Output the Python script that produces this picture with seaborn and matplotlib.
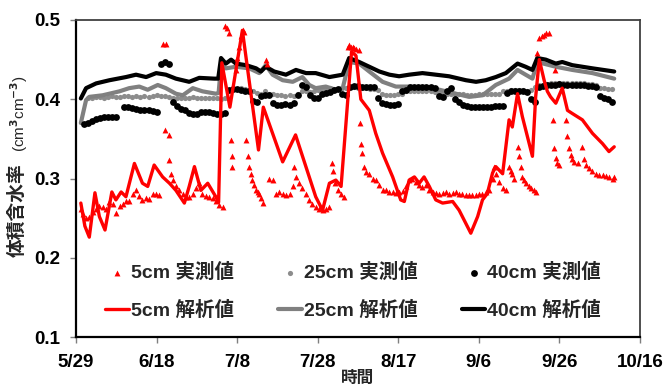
import numpy as np
import pandas as pd
import matplotlib
matplotlib.use("Agg")
import matplotlib.pyplot as plt
import seaborn as sns

nan = np.nan

# ---------------- data (day offset from 5/29) ----------------
tick_days = [0, 20, 40, 60, 80, 100, 120, 140]
tick_labels = ["5/29", "6/18", "7/8", "7/28", "8/17", "9/6", "9/26", "10/16"]
y_ticks = [0.1, 0.2, 0.3, 0.4, 0.5]

labels = ["5cm 実測値", "25cm 実測値", "40cm 実測値", "5cm 解析値", "25cm 解析値", "40cm 解析値"]

# 40cm simulated
sim40_day = [1.2, 2.5, 5.0, 8.3, 12.4, 14.9, 17.4, 19.9, 22.3, 24.8, 28.1, 30.6, 34.3, 35.3, 36.0,
             37.2, 38.5, 39.7, 42.2, 44.7, 45.9, 47.1, 49.2, 52.1, 54.6, 57.1, 59.5, 62.9, 66.2, 67.8,
             70.3, 72.8, 75.3, 77.8, 80.2, 82.7, 86.0, 89.3, 92.6, 96.8, 99.3, 101.7, 104.2, 106.7, 109.6,
             111.6, 113.3, 114.5, 116.6, 119.1, 120.7, 123.2, 128.2, 133.6]
sim40_val = [0.401, 0.414, 0.420, 0.424, 0.428, 0.431, 0.428, 0.433, 0.431, 0.426, 0.422, 0.427, 0.426, 0.426, 0.452,
             0.445, 0.450, 0.445, 0.443, 0.439, 0.435, 0.441, 0.435, 0.431, 0.437, 0.433, 0.433, 0.428, 0.431, 0.452,
             0.447, 0.441, 0.435, 0.431, 0.429, 0.431, 0.433, 0.431, 0.429, 0.424, 0.422, 0.424, 0.428, 0.433, 0.445,
             0.441, 0.437, 0.452, 0.450, 0.445, 0.447, 0.443, 0.439, 0.435]

# 25cm simulated
sim25_day = [1.2, 2.5, 3.3, 6.6, 10.8, 13.2, 15.7, 17.8, 20.3, 22.3, 24.8, 26.5, 29.0, 31.4, 34.7,
             35.4, 36.0, 37.2, 39.7, 43.0, 45.5, 47.1, 48.8, 51.3, 53.8, 56.2, 57.9, 59.5, 62.0, 64.5,
             66.2, 67.8, 70.3, 72.8, 76.1, 79.4, 82.7, 86.0, 90.2, 94.3, 97.6, 100.9, 104.2, 107.5, 109.6,
             111.6, 113.3, 114.5, 119.1, 123.2, 128.2, 133.6]
sim25_val = [0.370, 0.399, 0.403, 0.405, 0.410, 0.414, 0.416, 0.412, 0.418, 0.414, 0.407, 0.405, 0.414, 0.410, 0.407,
             0.408, 0.443, 0.439, 0.441, 0.439, 0.433, 0.443, 0.431, 0.424, 0.422, 0.428, 0.418, 0.414, 0.416, 0.412,
             0.414, 0.447, 0.445, 0.435, 0.422, 0.416, 0.416, 0.414, 0.412, 0.407, 0.403, 0.405, 0.418, 0.426, 0.437,
             0.431, 0.426, 0.447, 0.441, 0.437, 0.433, 0.426]

# 5cm simulated
sim5_day = [1.2, 2.2, 3.3, 4.7, 5.8, 7.2, 8.9, 9.9, 11.2, 12.4, 14.5, 16.5, 17.8, 19.4, 21.5,
            23.2, 24.8, 26.9, 28.1, 29.4, 31.0, 32.7, 34.7, 35.4, 36.2, 38.2, 41.3, 45.3, 46.5,
            51.3, 54.5, 59.5, 61.2, 62.9, 64.5, 65.8, 67.4, 68.4, 69.5, 70.7, 72.8, 74.4, 76.1, 78.6,
            80.6, 81.5, 82.7, 84.0, 85.2, 86.4, 87.7, 89.3, 91.0, 93.5, 95.1, 96.8, 98.0, 99.7, 100.9,
            102.1, 103.4, 104.2, 105.9, 107.5, 108.3, 109.6, 110.8, 113.3, 114.1, 115.0, 116.2, 117.0, 117.8,
            119.1, 120.7, 122.0, 123.2, 125.7, 128.2, 130.7, 132.3, 133.6]
sim5_val = [0.269, 0.240, 0.226, 0.282, 0.252, 0.235, 0.283, 0.273, 0.283, 0.277, 0.319, 0.294, 0.290, 0.317, 0.302,
            0.294, 0.285, 0.269, 0.290, 0.315, 0.285, 0.294, 0.277, 0.270, 0.446, 0.390, 0.487, 0.336, 0.390,
            0.321, 0.355, 0.277, 0.260, 0.294, 0.298, 0.290, 0.395, 0.460, 0.455, 0.400, 0.386, 0.357, 0.332, 0.302,
            0.273, 0.271, 0.298, 0.302, 0.294, 0.302, 0.290, 0.273, 0.269, 0.271, 0.260, 0.243, 0.231, 0.252, 0.273,
            0.281, 0.307, 0.315, 0.306, 0.374, 0.365, 0.407, 0.378, 0.328, 0.403, 0.450, 0.424, 0.410, 0.403,
            0.395, 0.414, 0.386, 0.382, 0.374, 0.357, 0.344, 0.334, 0.340]

# 5cm measured (day, value)
obs5_points = [
    (1.2, 0.262), (1.8, 0.255), (2.5, 0.250), (3.3, 0.252), (4.1, 0.258), (5.0, 0.262), (5.8, 0.265),
    (6.6, 0.264), (7.4, 0.262), (8.3, 0.270), (9.1, 0.268), (9.9, 0.256), (10.8, 0.265), (11.6, 0.268),
    (12.4, 0.272), (13.2, 0.271), (14.1, 0.280), (14.9, 0.285), (15.7, 0.278), (16.5, 0.273), (17.4, 0.276),
    (18.2, 0.274), (19.0, 0.280), (19.9, 0.281), (20.7, 0.279), (21.7, 0.470), (22.0, 0.361), (22.3, 0.470),
    (23.0, 0.355), (23.2, 0.323), (23.6, 0.306), (24.0, 0.298), (24.8, 0.290), (25.6, 0.285), (26.5, 0.280),
    (27.3, 0.277), (28.1, 0.277), (29.0, 0.280), (29.8, 0.288), (30.6, 0.294), (31.4, 0.281), (32.3, 0.278),
    (33.1, 0.277), (33.9, 0.275), (34.7, 0.272), (35.6, 0.266), (36.4, 0.264),
    (37.0, 0.492), (37.4, 0.490), (38.0, 0.483), (38.4, 0.349), (38.6, 0.328), (38.8, 0.315), (39.6, 0.437),
    (40.0, 0.452), (40.5, 0.466), (41.0, 0.480), (41.4, 0.487), (41.8, 0.485), (42.2, 0.349), (42.6, 0.328),
    (43.0, 0.315), (43.4, 0.306), (43.8, 0.298), (44.2, 0.292), (44.7, 0.285), (45.1, 0.283), (45.5, 0.281),
    (46.0, 0.275), (46.3, 0.269), (47.1, 0.450), (47.4, 0.445),
    (48.0, 0.300), (48.8, 0.298), (49.6, 0.281), (50.4, 0.283), (51.3, 0.281), (52.1, 0.279), (53.0, 0.281),
    (53.8, 0.290), (54.2, 0.315), (54.6, 0.302), (55.4, 0.294), (56.2, 0.288), (57.1, 0.281), (57.9, 0.273),
    (58.7, 0.268), (59.5, 0.264), (60.4, 0.262), (61.2, 0.260), (62.0, 0.262), (62.9, 0.264), (63.5, 0.319),
    (63.9, 0.310), (64.3, 0.294), (65.0, 0.285), (65.8, 0.281), (66.6, 0.277), (67.4, 0.466), (67.8, 0.468),
    (68.2, 0.466), (68.7, 0.466), (69.1, 0.465), (69.5, 0.463), (70.3, 0.462), (70.5, 0.370), (70.7, 0.344),
    (71.1, 0.332), (71.5, 0.315), (72.0, 0.308), (72.8, 0.306), (73.6, 0.300), (74.4, 0.298), (75.3, 0.292),
    (76.1, 0.285),
    (77.0, 0.285), (77.8, 0.283), (78.6, 0.283), (79.4, 0.282), (80.2, 0.283), (81.1, 0.284), (81.9, 0.290),
    (82.7, 0.298), (83.5, 0.300), (84.4, 0.296), (85.2, 0.292), (86.0, 0.289), (86.8, 0.292), (87.7, 0.285),
    (88.5, 0.283), (89.3, 0.282), (90.2, 0.281), (91.0, 0.282), (91.8, 0.283), (92.6, 0.281), (93.5, 0.282),
    (94.3, 0.283), (95.1, 0.281), (95.9, 0.280), (96.8, 0.279), (97.6, 0.279), (98.4, 0.279), (99.3, 0.279),
    (100.1, 0.281), (100.9, 0.281), (101.7, 0.283), (102.6, 0.285), (103.4, 0.300), (103.8, 0.315),
    (104.2, 0.306), (105.0, 0.296), (105.9, 0.288), (106.7, 0.285),
    (107.5, 0.315), (108.0, 0.310), (108.3, 0.306), (108.8, 0.300), (109.6, 0.340), (110.0, 0.328),
    (110.4, 0.315), (110.8, 0.302), (111.2, 0.298), (111.6, 0.294), (112.4, 0.290), (112.9, 0.288),
    (113.7, 0.285), (114.1, 0.283), (114.5, 0.458), (115.0, 0.477), (115.6, 0.480), (116.2, 0.481),
    (116.6, 0.483), (117.4, 0.484), (118.3, 0.374), (118.7, 0.338), (118.9, 0.437), (119.1, 0.326),
    (119.5, 0.319), (120.0, 0.317), (121.6, 0.374), (122.0, 0.354), (122.4, 0.338), (122.8, 0.330),
    (123.2, 0.325), (123.6, 0.321), (124.5, 0.319), (125.7, 0.340), (126.1, 0.325), (126.6, 0.317),
    (127.4, 0.313), (128.2, 0.310), (129.0, 0.306), (129.8, 0.305), (130.7, 0.304), (131.5, 0.303),
    (132.3, 0.302), (133.2, 0.300), (133.6, 0.302),
]

# 25cm measured, one value per day starting at day 3
obs25_start = 3
obs25_val = [
    0.401, 0.402, 0.403, 0.403, 0.402, 0.403, 0.404, 0.403,
    0.403, 0.404, 0.404, 0.403, 0.404, 0.403, 0.404, 0.403, 0.404, 0.405, 0.404,
    0.404, 0.403, 0.402,
    0.402, 0.402, 0.401, 0.402, 0.403, 0.402, 0.401, 0.402, 0.401, 0.401,
    0.401, 0.400, 0.402,
    0.412, 0.413, 0.413, 0.414, 0.413, 0.412, 0.410,
    0.408, 0.407, 0.410, 0.407, 0.406,
    0.405, 0.405, 0.404, 0.405, 0.404, 0.406, 0.410,
    0.410, 0.409, 0.410,
    0.412, 0.413, 0.413, 0.414, 0.413, 0.413, 0.414, 0.414, 0.415, 0.415, 0.414,
    0.414, 0.414, 0.413, 0.413, 0.412,
    0.406, 0.405, 0.405, 0.405, 0.406, 0.407,
    0.410, 0.410, 0.411, 0.410, 0.410, 0.410, 0.410, 0.409, 0.409,
    0.408, 0.407, 0.407, 0.407, 0.406, 0.406, 0.405, 0.405, 0.405, 0.406, 0.406, 0.407, 0.407, 0.407, 0.407,
    0.410, 0.411, 0.412, 0.412, 0.412, 0.412, 0.411, 0.412,
    0.416, 0.418, 0.418, 0.419,
    0.420, 0.420, 0.420, 0.421, 0.420, 0.420, 0.420, 0.420, 0.420, 0.419, 0.419, 0.418,
    0.414, 0.414, 0.413, 0.413,
]

# 40cm measured, one value per day starting at day 2 (nan = no data)
obs40_start = 2
obs40_val = [
    0.369, 0.370, 0.373,
    0.375, 0.376, 0.377, 0.377, 0.378, 0.378,
    nan,
    0.390, 0.390, 0.389, 0.388, 0.387,
    0.387, 0.386, 0.385, 0.384,
    0.445, 0.447, 0.444,
    0.396, 0.392, 0.388, 0.386, 0.383, 0.382, 0.382, 0.384, 0.384, 0.384, 0.383,
    0.382, 0.382, 0.383,
    0.412, 0.413, 0.413, 0.412, 0.411, 0.410,
    0.398, 0.397,
    0.404, 0.405, 0.405,
    0.395, 0.393, 0.393, 0.394, 0.393, 0.395,
    0.405, 0.418, 0.415, 0.405, 0.401, 0.401,
    0.407, 0.408, 0.409,
    0.412, 0.413,
    0.406, 0.405,
    0.416, 0.417, 0.417, 0.416, 0.416, 0.416, 0.415,
    0.402, 0.395, 0.394, 0.393, 0.393, 0.394,
    0.411, 0.412,
    0.415, 0.416, 0.416, 0.416, 0.416, 0.415, 0.414,
    0.404, 0.403,
    0.410, 0.414,
    0.400, 0.396, 0.393,
    0.391, 0.390, 0.390, 0.390, 0.390, 0.390, 0.390, 0.391, 0.391,
    0.391, 0.408, 0.410, 0.411, 0.411, 0.410, 0.409,
    0.400, 0.397,
    0.416, 0.417, 0.418, 0.418, 0.418, 0.419, 0.418, 0.418, 0.418, 0.418, 0.418, 0.418, 0.417, 0.417, 0.416,
    0.404, 0.402, 0.400, 0.397,
]

# ---------------- tables ----------------
obs5_day = [p[0] for p in obs5_points]
obs5_val = [p[1] for p in obs5_points]
obs25_day = list(np.arange(obs25_start, obs25_start + len(obs25_val)))
obs40_day = list(np.arange(obs40_start, obs40_start + len(obs40_val)))

df_sim40 = pd.DataFrame({"day": sim40_day, "theta": sim40_val})
df_sim25 = pd.DataFrame({"day": sim25_day, "theta": sim25_val})
df_sim5 = pd.DataFrame({"day": sim5_day, "theta": sim5_val})
df_obs5 = pd.DataFrame({"day": obs5_day, "theta": obs5_val})
df_obs25 = pd.DataFrame({"day": obs25_day, "theta": obs25_val})
df_obs40 = pd.DataFrame({"day": obs40_day, "theta": obs40_val}).dropna()

# ---------------- style ----------------
sns.set_theme(style="white")
plt.rcParams["font.family"] = ["Liberation Sans", "Noto Sans CJK JP", "DejaVu Sans"]
plt.rcParams["font.weight"] = "bold"

fig = plt.figure(figsize=(6.72, 3.88), dpi=100)
ax = fig.add_axes([76 / 672, 51 / 388, 564 / 672, 317 / 388])

sns.scatterplot(data=df_obs25, x="day", y="theta", ax=ax, color="#8c8c8c", marker="o",
                s=14, linewidth=0, label=labels[1], zorder=2)
sns.lineplot(data=df_sim25, x="day", y="theta", ax=ax, color="#808080", linewidth=3,
             estimator=None, sort=False, label=labels[4], zorder=3)
sns.scatterplot(data=df_obs40, x="day", y="theta", ax=ax, color="black", marker="o",
                s=24, linewidth=0, label=labels[2], zorder=4)
sns.lineplot(data=df_sim40, x="day", y="theta", ax=ax, color="black", linewidth=3,
             estimator=None, sort=False, label=labels[5], zorder=5)
sns.lineplot(data=df_sim5, x="day", y="theta", ax=ax, color="#ff0000", linewidth=2.4,
             estimator=None, sort=False, label=labels[3], zorder=6)
sns.scatterplot(data=df_obs5, x="day", y="theta", ax=ax, color="#ff0000", marker="^",
                s=18, linewidth=0, label=labels[0], zorder=7)

ax.set_xlim(0, 140)
ax.set_ylim(0.1, 0.5)
ax.set_xticks(tick_days)
ax.set_xticklabels(tick_labels)
ax.set_yticks(y_ticks)
ax.set_yticklabels([f"{v:.1f}" for v in y_ticks])
ax.tick_params(axis="both", direction="out", length=4, width=1, color="#7f7f7f",
               labelsize=13.5, labelcolor="black", bottom=True, left=True)
ax.tick_params(axis="y", pad=7)
ax.tick_params(axis="x", pad=8)

for side in ["top", "right"]:
    ax.spines[side].set_color("#404040")
    ax.spines[side].set_linewidth(1.3)
for side in ["left", "bottom"]:
    ax.spines[side].set_color("black")
    ax.spines[side].set_linewidth(1.6)

ax.set_xlabel("時間", fontsize=12, fontweight="bold", labelpad=0)
ax.set_ylabel("")

fig.text(18 / 672, 1 - 257 / 388, "体積含水率", rotation=90, ha="center", va="bottom",
         fontsize=13.5, fontweight="bold")
fig.text(19 / 672, 1 - 152 / 388, "(cm$^{3}$cm$^{-3}$)", rotation=90, ha="center", va="bottom",
         fontsize=11, fontweight="normal", family="Liberation Sans")

handles, labs = ax.get_legend_handles_labels()
hmap = dict(zip(labs, handles))
order = [labels[0], labels[3], labels[1], labels[4], labels[2], labels[5]]
ax.legend([hmap[l] for l in order], order, ncol=3, loc="lower left",
          bbox_to_anchor=(0.052, 0.055), frameon=False, fontsize=14,
          handlelength=1.2, handletextpad=0.1, columnspacing=2.3, labelspacing=0.95,
          borderpad=0, borderaxespad=0)

fig.savefig("out.png", dpi=100)
